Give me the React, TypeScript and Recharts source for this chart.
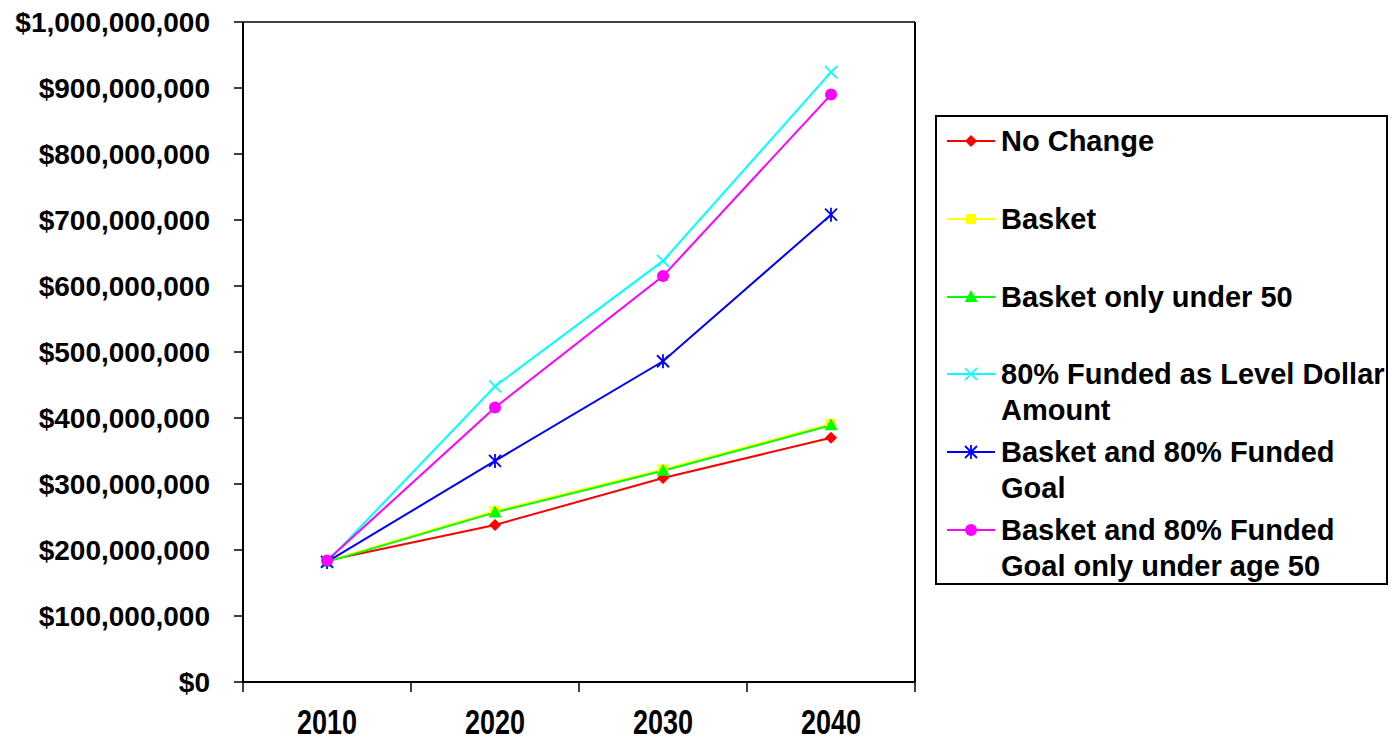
import React from "react";
import { CartesianGrid, Legend, Line, LineChart, XAxis, YAxis } from "recharts";

const years = ["2010", "2020", "2030", "2040"];
const noChange = [184e6, 238e6, 309e6, 370e6];
const basket = [183e6, 259e6, 322e6, 391e6];
const basketUnder50 = [182e6, 257e6, 320e6, 389e6];
const levelDollar = [182e6, 448e6, 638e6, 924e6];
const basket80 = [182e6, 335e6, 486e6, 708e6];
const basket80Under50 = [184e6, 416e6, 615e6, 890e6];
const yTicks = [0, 1e8, 2e8, 3e8, 4e8, 5e8, 6e8, 7e8, 8e8, 9e8, 1e9];

const series = [
    { key: "noChange", name: "No Change", color: "#ff0000", marker: "diamond", values: noChange },
    { key: "basket", name: "Basket", color: "#ffff00", marker: "square", values: basket },
    { key: "basketUnder50", name: "Basket only under 50", color: "#00ff00", marker: "triangle", values: basketUnder50 },
    { key: "levelDollar", name: "80% Funded as Level Dollar Amount", color: "#00ffff", marker: "x", values: levelDollar },
    { key: "basket80", name: "Basket and 80% Funded Goal", color: "#0000ff", marker: "star", values: basket80 },
    { key: "basket80Under50", name: "Basket and 80% Funded Goal only under age 50", color: "#ff00ff", marker: "circle", values: basket80Under50 },
];

const data = years.map((year, i) => {
    const row: any = { year };
    series.forEach((s) => { row[s.key] = s.values[i]; });
    return row;
});

const FONT = "Arial, 'Liberation Sans', sans-serif";
const W = 1391;
const H = 743;
const PLOT_LEFT = 243;
const PLOT_RIGHT = 915;
const PLOT_TOP = 22;
const PLOT_BOTTOM = 682;

const Marker = ({ type, cx, cy, color }: any) => {
    if (cx == null || cy == null) return null;
    switch (type) {
        case "diamond":
            return <path d={`M${cx},${cy - 6}L${cx + 6},${cy}L${cx},${cy + 6}L${cx - 6},${cy}Z`} fill={color} />;
        case "square":
            return <rect x={cx - 5} y={cy - 5} width={10} height={10} fill={color} />;
        case "triangle":
            return <path d={`M${cx},${cy - 7}L${cx + 6.5},${cy + 5}L${cx - 6.5},${cy + 5}Z`} fill={color} />;
        case "x":
            return <path d={`M${cx - 6},${cy - 6}L${cx + 6},${cy + 6}M${cx + 6},${cy - 6}L${cx - 6},${cy + 6}`} stroke={color} strokeWidth={1.6} fill="none" />;
        case "star":
            return <path d={`M${cx - 6},${cy - 6}L${cx + 6},${cy + 6}M${cx + 6},${cy - 6}L${cx - 6},${cy + 6}M${cx},${cy - 7}L${cx},${cy + 7}`} stroke={color} strokeWidth={1.8} fill="none" />;
        default:
            return <circle cx={cx} cy={cy} r={6} fill={color} />;
    }
};

// half of one category band; the year sits in the middle, tick marks on the edges
const halfBand = (PLOT_RIGHT - PLOT_LEFT) / years.length / 2;

const XTick = ({ x, y, payload, index }: any) => (
    <g>
        <line x1={x - halfBand} y1={y} x2={x - halfBand} y2={y + 10} stroke="#000" strokeWidth={1.5} />
        {index === years.length - 1 && (
            <line x1={x + halfBand} y1={y} x2={x + halfBand} y2={y + 10} stroke="#000" strokeWidth={1.5} />
        )}
        <g transform={`translate(${x},${y})`}>
            <text
                transform="scale(1,1.3)"
                x={0}
                y={40}
                textAnchor="middle"
                fontFamily={FONT}
                fontWeight="bold"
                fontSize={27}
                fill="#000"
            >
                {payload.value}
            </text>
        </g>
    </g>
);

const LegendBox = () => (
    <div
        style={{
            position: "relative",
            width: 453,
            height: 470,
            border: "2px solid #000",
            boxSizing: "border-box",
            background: "#fff",
            fontFamily: FONT,
            fontWeight: "bold",
            fontSize: 29,
            lineHeight: "36px",
            color: "#000",
        }}
    >
        {series.map((s, i) => {
            const top = 26 + i * 77.8 - 18 - 2;
            return (
                <div key={s.key} style={{ position: "absolute", left: 0, top, width: 451 }}>
                    <svg width={60} height={36} style={{ position: "absolute", left: 8, top: 0 }}>
                        <line x1={2} y1={18} x2={50} y2={18} stroke={s.color} strokeWidth={2} />
                        <Marker type={s.marker} cx={26} cy={18} color={s.color} />
                    </svg>
                    <div style={{ position: "absolute", left: 64, top: 0, width: 388 }}>{s.name}</div>
                </div>
            );
        })}
    </div>
);

const App = () => {
    return (
        <div style={{ position: "absolute", left: 0, top: 0, background: "#fff" }}>
            <LineChart
                width={W}
                height={H}
                data={data}
                margin={{ top: PLOT_TOP, right: 0, bottom: 0, left: 0 }}
            >
                <CartesianGrid vertical={false} stroke="#000" strokeWidth={1.5} strokeOpacity={1} />
                <XAxis
                    dataKey="year"
                    height={H - PLOT_BOTTOM}
                    padding={{ left: halfBand, right: halfBand }}
                    axisLine={{ stroke: "#000", strokeWidth: 2 }}
                    tickLine={false}
                    tickSize={0}
                    tickMargin={0}
                    tick={<XTick />}
                    interval={0}
                />
                <YAxis
                    yAxisId="left"
                    width={PLOT_LEFT}
                    domain={[0, 1e9]}
                    ticks={yTicks}
                    interval={0}
                    tickFormatter={(v: number) => "$" + v.toLocaleString("en-US")}
                    axisLine={{ stroke: "#000", strokeWidth: 2 }}
                    tickLine={{ stroke: "#000", strokeWidth: 1.5 }}
                    tickSize={9}
                    tickMargin={24}
                    tick={{ fontFamily: FONT, fontWeight: "bold", fontSize: 28, fill: "#000" }}
                />
                <YAxis
                    yAxisId="right"
                    orientation="right"
                    width={W - PLOT_RIGHT}
                    domain={[0, 1e9]}
                    tick={false}
                    tickLine={false}
                    axisLine={{ stroke: "#000", strokeWidth: 2 }}
                />
                <Legend
                    layout="vertical"
                    align="center"
                    verticalAlign="middle"
                    content={<LegendBox />}
                    wrapperStyle={{ position: "absolute", left: 935, top: 115, width: 453, height: 470 }}
                />
                {series.map((s) => (
                    <Line
                        key={s.key}
                        yAxisId="left"
                        type="linear"
                        dataKey={s.key}
                        name={s.name}
                        stroke={s.color}
                        strokeWidth={2}
                        isAnimationActive={false}
                        dot={(p: any) => <Marker key={`${s.key}-${p.index}`} type={s.marker} cx={p.cx} cy={p.cy} color={s.color} />}
                        activeDot={false}
                    />
                ))}
            </LineChart>
        </div>
    );
};

export default App;
